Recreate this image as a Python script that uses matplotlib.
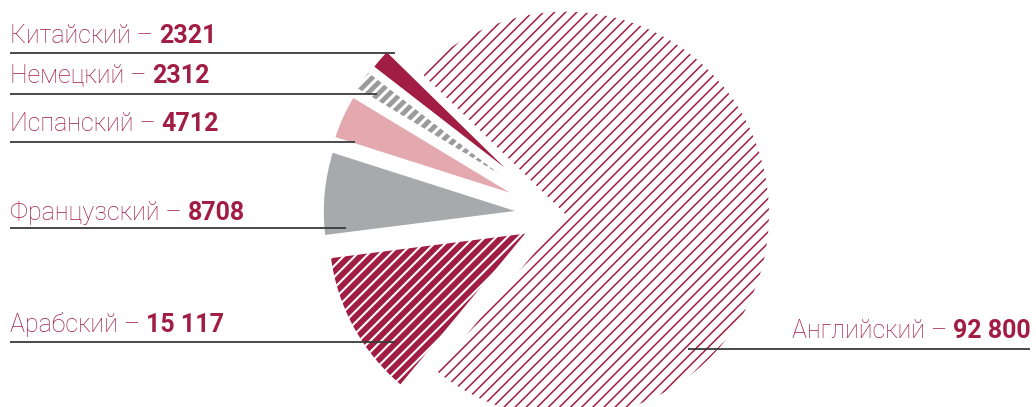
import matplotlib
matplotlib.use("Agg")
import matplotlib.pyplot as plt

# data
languages = ["Английский", "Китайский", "Немецкий", "Испанский", "Французский", "Арабский"]
counts = [92800, 2321, 2312, 4712, 8708, 15117]
count_labels = ["92 800", "2321", "2312", "4712", "8708", "15 117"]

# styling / layout
CRIMSON = "#a11d44"
PINK = "#e3a9ae"
GRAY = "#a7a9ac"
DARK_GRAY = "#9b9b9b"
LINE = "#3a3a3a"

face_colors = ["white", CRIMSON, DARK_GRAY, PINK, GRAY, CRIMSON]
hatches = ["///", None, "///", None, None, "///"]
explode = [0.035, 0.18, 0.185, 0.18, 0.172, 0.165]

W, H = 1036, 407
CX, CY, R = 559, 215, 200  # pie centre and unit radius in pixels
PIE_RADIUS = 1.015

# label baseline y and leader line (y, x_start, x_end) in pixels
label_layout = {
    "Китайский": (43, 53, 10, 395),
    "Немецкий": (83, 94, 10, 377),
    "Испанский": (131, 142, 10, 355),
    "Французский": (220, 228, 10, 346),
    "Арабский": (332, 342, 10, 395),
    "Английский": (338, 349, 688, 1030),
}


def px(x, y):
    return (x - CX) / R, (CY - y) / R


plt.rcParams["font.family"] = ["Roboto", "DejaVu Sans"]
plt.rcParams["hatch.linewidth"] = 1.1
plt.rcParams["hatch.color"] = CRIMSON

fig = plt.figure(figsize=(W / 100, H / 100), dpi=100)
ax = fig.add_axes([0, 0, 1, 1])

start = -180.0 * counts[0] / sum(counts) + 3
wedges, _ = ax.pie(counts, startangle=start, counterclock=True, explode=explode,
                   colors=face_colors, radius=PIE_RADIUS, center=(0, 0),
                   wedgeprops=dict(linewidth=0))

for i, w in enumerate(wedges):
    if hatches[i]:
        w.set_hatch(hatches[i])
    if i == 0:
        continue
    w.set_edgecolor("white")
    w.set_linewidth(3.0)
    if hatches[i] and hasattr(w, "set_hatch_linewidth"):
        w.set_hatch_linewidth(1.5 if i == 5 else 2.2)

ax.set_xlim(-CX / R, (W - CX) / R)
ax.set_ylim(-(H - CY) / R, CY / R)
ax.set_aspect("auto")
ax.axis("off")

fs = 18
for name, num in zip(languages, count_labels):
    base_y, line_y, x0, x1 = label_layout[name]
    lx0, ly = px(x0, line_y)
    lx1, _ = px(x1, line_y)
    ax.plot([lx0, lx1], [ly, ly], color=LINE, lw=1.3, solid_capstyle="butt", zorder=5)
    tx, ty = px(10 if name != "Английский" else 1031, base_y)
    if name == "Английский":
        t_num = ax.text(tx, ty, num, color=CRIMSON, fontsize=fs, fontweight="bold",
                        ha="right", va="baseline")
        ax.annotate(name + " – ", xy=(0, ty), xycoords=(t_num, "data"), color=CRIMSON,
                    fontsize=fs, fontweight="light", ha="right", va="baseline")
    else:
        t_name = ax.text(tx, ty, name + " – ", color=CRIMSON, fontsize=fs,
                         fontweight="light", ha="left", va="baseline")
        ax.annotate(num, xy=(1, ty), xycoords=(t_name, "data"), color=CRIMSON,
                    fontsize=fs, fontweight="bold", ha="left", va="baseline")

fig.savefig("out.png", dpi=100)
